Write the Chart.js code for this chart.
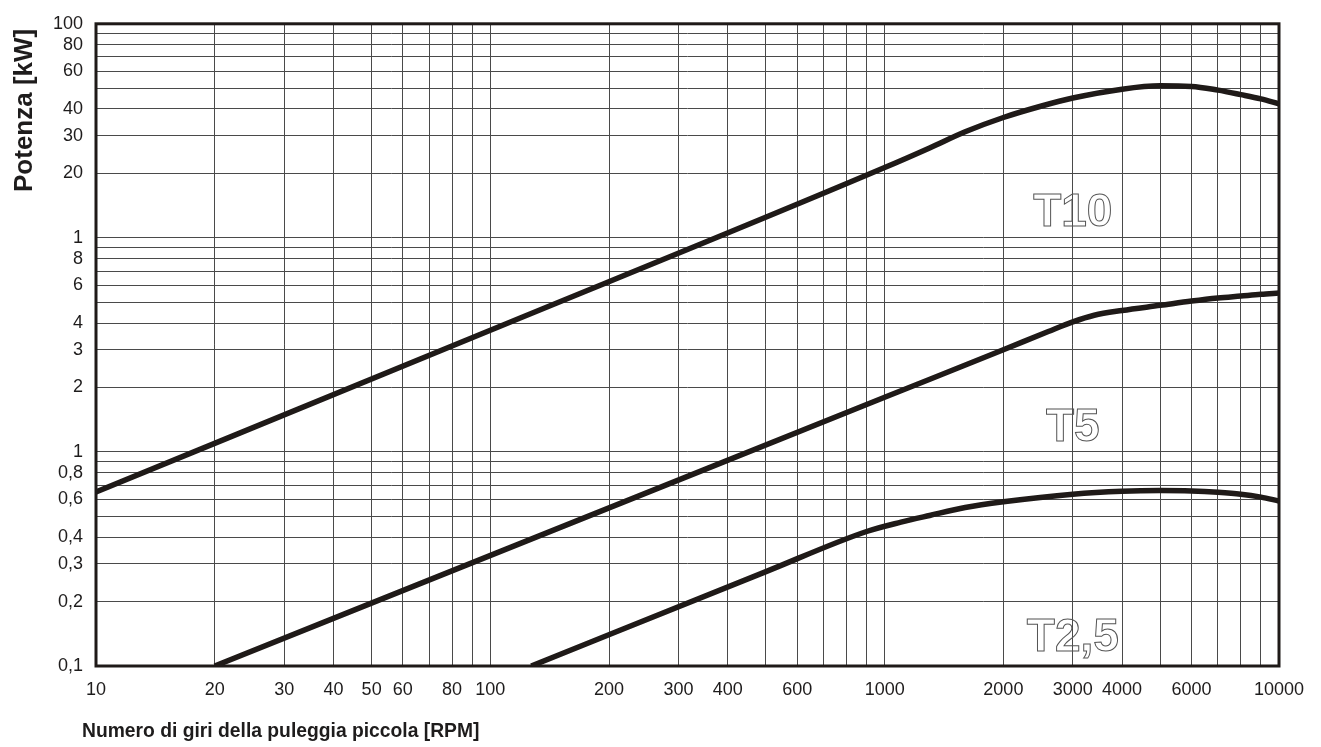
<!DOCTYPE html>
<html>
<head>
<meta charset="utf-8">
<script src="https://cdn.jsdelivr.net/npm/chart.js@4.4.1/dist/chart.umd.min.js"></script>
<style>
    body { margin: 0; background: #ffffff; }
    canvas { display: block; }
</style>
</head>
<body>
<canvas id="graphic-potenza" width="1321" height="747"></canvas>
<script>
// Curve di potenza per profilo (giri/min -> kW)
const rpmT10 = [10, 100, 1000, 1300, 1600, 2000, 2500, 3000, 4000, 5000, 6000, 7000, 8000, 9000, 10000];
const kwT10 = [0.65, 3.7, 21.3, 26.3, 31.3, 36.5, 41.3, 45, 49.5, 51.3, 51, 49, 46.7, 44.6, 42.3];

const rpmT5 = [20, 200, 1000, 2000, 2600, 3000, 3400, 4000, 5000, 6000, 7000, 8000, 9000, 10000];
const kwT5 = [0.1, 0.548, 1.8, 3.0, 3.65, 4.05, 4.35, 4.58, 4.84, 5.07, 5.24, 5.35, 5.45, 5.52];

const rpmT25 = [127, 500, 900, 1100, 1300, 1600, 2000, 3000, 4000, 5000, 6000, 7000, 8000, 9000, 10000];
const kwT25 = [0.1, 0.276, 0.425, 0.47, 0.505, 0.55, 0.585, 0.635, 0.655, 0.66, 0.657, 0.648, 0.635, 0.615, 0.59];

// Etichette degli assi (le altre linee della griglia restano senza testo)
const xLabelValues = [10, 20, 30, 40, 50, 60, 80, 100, 200, 300, 400, 600, 1000, 2000, 3000, 4000, 6000, 10000];
const xLabelTexts = ['10', '20', '30', '40', '50', '60', '80', '100', '200', '300', '400', '600', '1000', '2000', '3000', '4000', '6000', '10000'];
const yLabelValues = [0.1, 0.2, 0.3, 0.4, 0.6, 0.8, 1, 2, 3, 4, 6, 8, 10, 20, 30, 40, 60, 80, 100];
const yLabelTexts = ['0,1', '0,2', '0,3', '0,4', '0,6', '0,8', '1', '2', '3', '4', '6', '8', '1', '20', '30', '40', '60', '80', '100'];

// Nomi dei profili, scritti accanto alle curve
const profileNames = ['T10', 'T5', 'T2,5'];
const profileLabelRpm = [3000, 3000, 3000];
const profileLabelKw = [11.4, 1.13, 0.1175];

const fontFamily = '"Liberation Sans", Arial, sans-serif';
const textColor = '#1e1c1c';
const gridColor = '#4a4a4a';
const curveColor = '#1f1a18';

// linee della griglia: 1..9 per ogni decade
function logGrid(from, to) {
    const values = [];
    for (let e = Math.log10(from); e < Math.log10(to); e++) {
        for (let m = 1; m <= 9; m++) {
            values.push(parseFloat((m * Math.pow(10, e)).toPrecision(6)));
        }
    }
    values.push(to);
    return values;
}

function labelFor(values, texts, v) {
    const i = values.findIndex(x => Math.abs(x - v) / x < 1e-6);
    return i >= 0 ? texts[i] : '';
}

function toPoints(xs, ys) {
    return xs.map((x, i) => ({ x: x, y: ys[i] }));
}

const curveStyle = {
    borderColor: curveColor,
    borderWidth: 5.5,
    pointRadius: 0,
    cubicInterpolationMode: 'monotone',
    fill: false
};

// cornice spessa attorno all'area del grafico
const framePlugin = {
    id: 'frame',
    beforeDatasetsDraw(chart) {
        const a = chart.chartArea;
        const ctx = chart.ctx;
        ctx.save();
        ctx.strokeStyle = curveColor;
        ctx.lineWidth = 3;
        ctx.strokeRect(a.left, a.top, a.right - a.left, a.bottom - a.top);
        ctx.restore();
    }
};

// scritte T10 / T5 / T2,5 in contorno
const profileLabelsPlugin = {
    id: 'profileLabels',
    afterDatasetsDraw(chart) {
        const ctx = chart.ctx;
        const x = chart.scales.x;
        const y = chart.scales.y;
        ctx.save();
        ctx.font = 'bold 46px ' + fontFamily;
        ctx.textAlign = 'center';
        ctx.textBaseline = 'alphabetic';
        ctx.strokeStyle = '#555555';
        ctx.lineWidth = 1;
        profileNames.forEach((name, i) => {
            ctx.strokeText(name, x.getPixelForValue(profileLabelRpm[i]), y.getPixelForValue(profileLabelKw[i]));
        });
        ctx.restore();
    }
};

// titoli degli assi
const axisTitlesPlugin = {
    id: 'axisTitles',
    afterDraw(chart) {
        const ctx = chart.ctx;
        ctx.save();
        ctx.fillStyle = textColor;
        ctx.textBaseline = 'alphabetic';
        ctx.textAlign = 'left';
        ctx.font = 'bold 19.3px ' + fontFamily;
        ctx.fillText('Numero di giri della puleggia piccola [RPM]', 82, 737);
        ctx.translate(32, 192);
        ctx.rotate(-Math.PI / 2);
        ctx.font = 'bold 26px ' + fontFamily;
        ctx.fillText('Potenza [kW]', 0, 0);
        ctx.restore();
    }
};

const ctxPotenza = document.getElementById('graphic-potenza');

var chartPotenza = new Chart(ctxPotenza, {
    type: 'line',
    data: {
        datasets: [
            Object.assign({ label: 'T10', data: toPoints(rpmT10, kwT10) }, curveStyle),
            Object.assign({ label: 'T5', data: toPoints(rpmT5, kwT5) }, curveStyle),
            Object.assign({ label: 'T2,5', data: toPoints(rpmT25, kwT25) }, curveStyle)
        ]
    },
    options: {
        responsive: false,
        maintainAspectRatio: false,
        animation: false,
        layout: {
            padding: { left: 0, right: 42, top: 23, bottom: 0 }
        },
        scales: {
            x: {
                type: 'logarithmic',
                min: 10,
                max: 10000,
                afterBuildTicks: (scale) => {
                    scale.ticks = logGrid(10, 10000).map(v => ({ value: v }));
                },
                afterFit: (scale) => { scale.height = 81; },
                grid: { color: gridColor, lineWidth: 1, drawTicks: false },
                border: { display: false },
                ticks: {
                    autoSkip: false,
                    maxRotation: 0,
                    padding: 13,
                    color: textColor,
                    font: { family: fontFamily, size: 18 },
                    callback: (value) => labelFor(xLabelValues, xLabelTexts, value)
                }
            },
            y: {
                type: 'logarithmic',
                min: 0.1,
                max: 100,
                afterBuildTicks: (scale) => {
                    scale.ticks = logGrid(0.1, 100).map(v => ({ value: v }));
                },
                afterFit: (scale) => { scale.width = 96; },
                grid: { color: gridColor, lineWidth: 1, drawTicks: false },
                border: { display: false },
                ticks: {
                    autoSkip: false,
                    padding: 13,
                    color: textColor,
                    font: { family: fontFamily, size: 18 },
                    callback: (value) => labelFor(yLabelValues, yLabelTexts, value)
                }
            }
        },
        plugins: {
            legend: { display: false },
            tooltip: { enabled: false }
        }
    },
    plugins: [framePlugin, profileLabelsPlugin, axisTitlesPlugin]
});
</script>
</body>
</html>
